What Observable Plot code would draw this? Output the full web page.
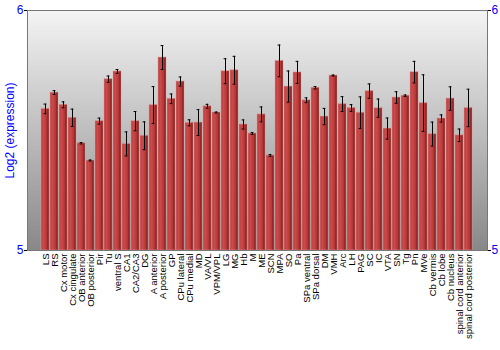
<!DOCTYPE html>
<html>
<head>
<meta charset="utf-8">
<script src="https://cdn.jsdelivr.net/npm/d3@7"></script>
<script src="https://cdn.jsdelivr.net/npm/@observablehq/plot@0.6"></script>
<style>
  html, body { margin: 0; padding: 0; background: white; }
</style>
</head>
<body>
<div id="chart"></div>
<script>
const categories = ["LS","RS","Cx motor","Cx cingulate","OB anterior","OB posterior","Pir","Tu","ventral S","CA1","CA2/CA3","DG","A anterior","A posterior","GP","CPu lateral","CPu medial","MD","VA/VL","VPM/VPL","LG","MG","Hb","M","ME","SCN","MPA","SO","Pa","SPa ventral","SPa dorsal","DM","VMH","Arc","LH","PAG","SC","IC","VTA","SN","Tg","Pn","MVe","Cb vermis","Cb lobe","Cb nucleus","spinal cord anterior","spinal cord posterior"];
const values = [5.590,5.658,5.607,5.553,5.447,5.375,5.539,5.714,5.746,5.444,5.539,5.478,5.606,5.804,5.632,5.704,5.532,5.533,5.601,5.575,5.747,5.751,5.525,5.4875,5.567,5.396,5.790,5.683,5.742,5.626,5.678,5.558,5.729,5.610,5.594,5.574,5.664,5.593,5.508,5.6375,5.645,5.743,5.614,5.485,5.550,5.633,5.480,5.594];
const errors = [0.020,0.008,0.0125,0.036,0.003,0.002,0.0125,0.013,0.008,0.050,0.040,0.058,0.077,0.050,0.020,0.019,0.0125,0.054,0.008,0.002,0.052,0.058,0.019,0.004,0.031,0.004,0.066,0.065,0.046,0.010,0.005,0.034,0.002,0.031,0.014,0.066,0.030,0.038,0.044,0.024,0.003,0.045,0.118,0.050,0.015,0.049,0.026,0.078];
const yTicks = [5, 6];
const yLabel = "Log2 (expression)";

const data = categories.map((c, i) => ({region: c, value: values[i], err: errors[i]}));

const svg = Plot.plot({
  width: 500,
  height: 350,
  marginLeft: 27,
  marginRight: 13,
  marginTop: 10,
  marginBottom: 100,
  style: {fontFamily: "'Liberation Sans', Arial, sans-serif", background: "white"},
  x: {domain: categories, padding: 0.11, label: null, axis: null},
  y: {domain: [5, 6], label: null, axis: null},
  marks: [
    Plot.frame({fill: "url(#bgGrad)"}),
    Plot.barY(data, {x: "region", y1: () => 5, y2: "value", fill: "url(#barGrad)", stroke: "#e4a0a0", strokeOpacity: 0.5, strokeWidth: 1}),
    Plot.ruleX(data, {x: "region", y1: d => d.value - d.err, y2: d => d.value + d.err, stroke: "black", strokeWidth: 1}),
    Plot.tickY(data, {x: "region", y: d => d.value - d.err, insetLeft: 2.6, insetRight: 2.6, stroke: "black", strokeWidth: 1}),
    Plot.tickY(data, {x: "region", y: d => d.value + d.err, insetLeft: 2.6, insetRight: 2.6, stroke: "black", strokeWidth: 1}),
    Plot.frame({stroke: "#777"}),
    Plot.axisX({tickRotate: -90, tickSize: 0, tickPadding: 3, fontSize: 9.5, label: null, fill: "black"}),
    Plot.axisY({anchor: "left", ticks: yTicks, tickFormat: d3.format("d"), tickSize: 3, tickPadding: 1, fontSize: 12, fill: "blue", stroke: "black", label: null}),
    Plot.axisY({anchor: "right", ticks: yTicks, tickFormat: d3.format("d"), tickSize: 3, tickPadding: 1, fontSize: 12, fill: "blue", stroke: "black", label: null}),
    Plot.text([yLabel], {text: d => d, frameAnchor: "left", dx: -17, rotate: -90, fill: "blue", fontSize: 12, textAnchor: "middle"})
  ]
});

const defs = d3.select(svg).insert("defs", ":first-child");
const bg = defs.append("linearGradient").attr("id", "bgGrad").attr("x1", 0).attr("y1", 0).attr("x2", 0).attr("y2", 1);
bg.append("stop").attr("offset", "0%").attr("stop-color", "#f4f4f4");
bg.append("stop").attr("offset", "100%").attr("stop-color", "#888888");
const bar = defs.append("linearGradient").attr("id", "barGrad").attr("x1", 0).attr("y1", 0).attr("x2", 1).attr("y2", 0);
bar.append("stop").attr("offset", "0%").attr("stop-color", "#b83c3c");
bar.append("stop").attr("offset", "30%").attr("stop-color", "#cc4a4a");
bar.append("stop").attr("offset", "70%").attr("stop-color", "#b53636");
bar.append("stop").attr("offset", "100%").attr("stop-color", "#6a1212");

document.getElementById("chart").appendChild(svg);
</script>
</body>
</html>
